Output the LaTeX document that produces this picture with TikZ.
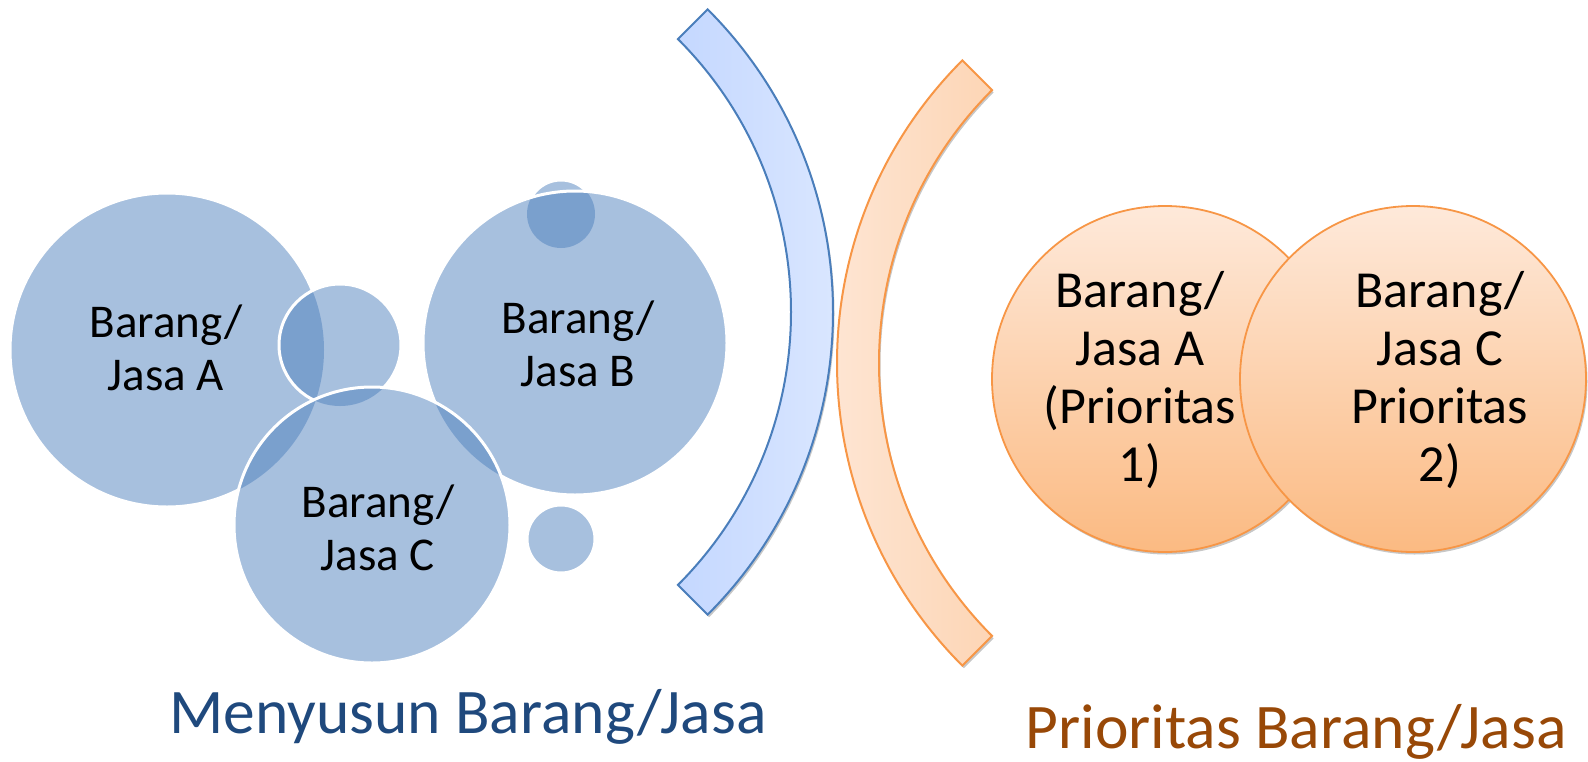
\documentclass[tikz,border=0pt]{standalone}
\usepackage{fontspec}
\setmainfont{Carlito}
\usetikzlibrary{shadows,calc}
\definecolor{accblue}{HTML}{4F81BD}
\definecolor{arcblueline}{HTML}{4A7EBB}
\definecolor{arcbluedark}{HTML}{9FBEFF}
\definecolor{arcbluelight}{HTML}{DFEAFF}
\definecolor{orline}{HTML}{F79646}
\definecolor{orlight}{HTML}{FEE9DA}
\definecolor{ordark}{HTML}{FBBA82}
\definecolor{titleblue}{HTML}{1F497D}
\definecolor{titlebrown}{HTML}{984807}
\begin{document}
\begin{tikzpicture}[x=1pt,y=-1pt,
  bluefill/.style={fill=accblue, fill opacity=0.5},
  whiteedge/.style={draw=white, line width=3pt},
  softshadow/.style={drop shadow={shadow xshift=1.5pt, shadow yshift=-2.5pt, opacity=0.22, fill=black}},
  bluearc/.style={draw=arcblueline, line width=2pt, left color=arcbluedark, right color=arcbluelight, softshadow},
  orarc/.style={draw=orline, line width=2pt, left color=orlight, right color=ordark, softshadow},
  orcircle/.style={draw=orline, line width=1.8pt, top color=orlight, bottom color=ordark, softshadow},
  smalltext/.style={font=\fontsize{47}{53}\selectfont, align=center, inner sep=0pt},
  bigtext/.style={font=\fontsize{52}{58}\selectfont, align=center, inner sep=0pt},
  titletext/.style={font=\fontsize{63.5}{76}\selectfont, anchor=base, inner sep=0pt}
]
\useasboundingbox (0,0) rectangle (1588,761);

% centres
\coordinate (cA) at (167,350);
\coordinate (cS1) at (340,345);
\coordinate (cS2) at (561,214);
\coordinate (cB) at (575,343);
\coordinate (cC) at (372,525);
\coordinate (cS3) at (561,539);
\coordinate (bc) at (405,312);
\coordinate (oc) at (1265,363);
\coordinate (cL) at (1165,379);
\coordinate (cR) at (1413,379);

% circle A
\fill[bluefill] (cA) circle[radius=157];
\begin{scope}[even odd rule]
  \clip (-10,-10) rectangle (1600,780) (cS1) circle[radius=61];
  \clip (-10,-10) rectangle (1600,780) (cC) circle[radius=138];
  \draw[whiteedge] (cA) circle[radius=157];
\end{scope}
% small circle between A and B
\fill[bluefill] (cS1) circle[radius=61];
\begin{scope}[even odd rule]
  \clip (-10,-10) rectangle (1600,780) (cC) circle[radius=138];
  \draw[whiteedge] (cS1) circle[radius=61];
\end{scope}
% small circle on top of B
\fill[bluefill] (cS2) circle[radius=34];
\begin{scope}[even odd rule]
  \clip (-10,-10) rectangle (1600,780) (cB) circle[radius=152];
  \draw[whiteedge] (cS2) circle[radius=34];
\end{scope}
% circle B
\fill[bluefill] (cB) circle[radius=152];
\begin{scope}[even odd rule]
  \clip (-10,-10) rectangle (1600,780) (cC) circle[radius=138];
  \draw[whiteedge] (cB) circle[radius=152];
\end{scope}
% circle C
\fill[bluefill] (cC) circle[radius=138];
\draw[whiteedge] (cC) circle[radius=138];
% small circle bottom
\fill[bluefill] (cS3) circle[radius=34];
\draw[whiteedge] (cS3) circle[radius=34];

% texts of blue circles
\node[smalltext] (tA) at (166,348) {Barang/\\Jasa A};
\node[smalltext] (tB) at (578,344) {Barang/\\Jasa B};
\node[smalltext] (tC) at (378,528) {Barang/\\Jasa C};

% blue arc
\path[bluearc] (bc) ++(-45:428) arc[start angle=-45, end angle=45, radius=428]
  -- ($(bc)+(45:386)$) arc[start angle=45, end angle=-45, radius=386] -- cycle;
% orange arc
\path[orarc] (oc) ++(135:428) arc[start angle=135, end angle=225, radius=428]
  -- ($(oc)+(225:386)$) arc[start angle=225, end angle=135, radius=386] -- cycle;

% orange circles
\path[orcircle] (cL) circle[radius=173];
\path[orcircle] (cR) circle[radius=173];
\node[bigtext] (tL) at (1140,380) {Barang/\\Jasa A\\(Prioritas\\1)};
\node[bigtext] (tR) at (1440,380) {Barang/\\Jasa C\\Prioritas\\2)};

% titles
\node[titletext, text=titleblue] (t1) at (468,733) {Menyusun Barang/Jasa};
\node[titletext, text=titlebrown] (t2) at (1296,748) {Prioritas Barang/Jasa};
\end{tikzpicture}
\end{document}
